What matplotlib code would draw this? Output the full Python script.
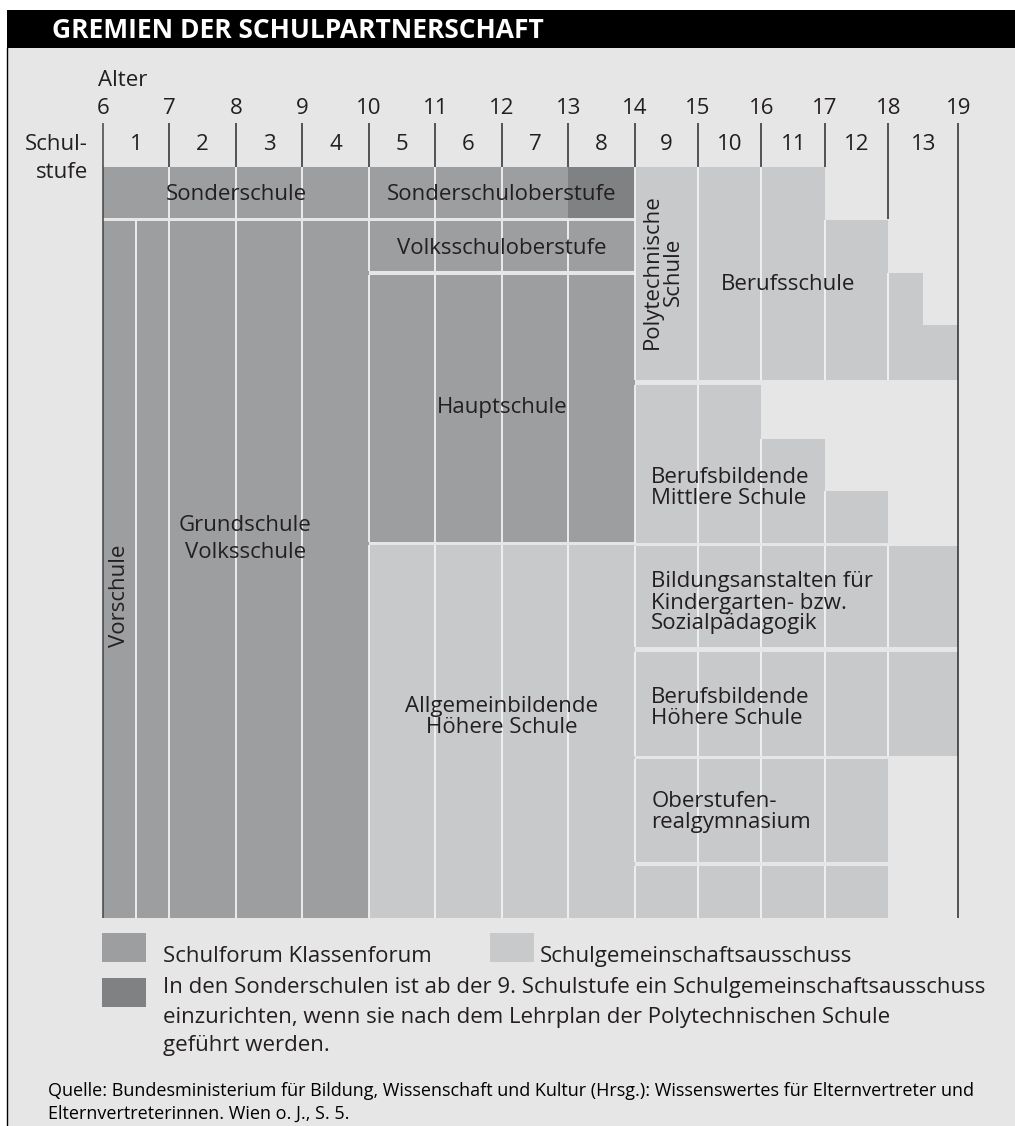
import numpy as np
import matplotlib
matplotlib.use("Agg")
import matplotlib.pyplot as plt
from matplotlib.patches import Rectangle

plt.rcParams['font.family'] = ['Open Sans', 'DejaVu Sans']

# ---------------- data ----------------
alter = [6, 7, 8, 9, 10, 11, 12, 13, 14, 15, 16, 17, 18, 19]
schulstufen = ['1', '2', '3', '4', '5', '6', '7', '8', '9', '10', '11', '12', '13']

schulen = ['Sonderschule', 'Sonderschuloberstufe', 'Vorschule',
           'Grundschule\nVolksschule', 'Volksschuloberstufe', 'Hauptschule',
           'Allgemeinbildende\nHöhere Schule', 'Polytechnische\nSchule',
           'Berufsschule', 'Berufsbildende\nMittlere Schule',
           'Bildungsanstalten für\nKindergarten- bzw.\nSozialpädagogik',
           'Berufsbildende\nHöhere Schule', 'Oberstufen-\nrealgymnasium', '']

jahr_von = [[6, 7, 8, 9], [10, 11, 12, 13], [6], [6.5, 7, 8, 9],
            [10, 11, 12, 13], [10, 11, 12, 13], [10, 11, 12, 13], [14],
            [15, 16, 17, 18, 18.5], [14, 15, 16, 17], [14, 15, 16, 17, 18],
            [14, 15, 16, 17, 18], [14, 15, 16, 17], [14, 15, 16, 17]]
jahr_bis = [[7, 8, 9, 10], [11, 12, 13, 14], [6.5], [7, 8, 9, 10],
            [11, 12, 13, 14], [11, 12, 13, 14], [11, 12, 13, 14], [15],
            [16, 17, 18, 18.5, 19], [15, 16, 17, 18], [15, 16, 17, 18, 19],
            [15, 16, 17, 18, 19], [15, 16, 17, 18], [15, 16, 17, 18]]
# F = Schulforum/Klassenforum, S = Schulgemeinschaftsausschuss, D = Sonderschule ab 9. Stufe
gremium = [['F'] * 4, ['F', 'F', 'F', 'D'], ['F'], ['F'] * 4,
           ['F'] * 4, ['F'] * 4, ['S'] * 4, ['S'],
           ['S'] * 5, ['S'] * 4, ['S'] * 5, ['S'] * 5, ['S'] * 4, ['S'] * 4]

legende = ['Schulforum Klassenforum', 'Schulgemeinschaftsausschuss',
           'In den Sonderschulen ist ab der 9. Schulstufe ein Schulgemeinschaftsausschuss\n'
           'einzurichten, wenn sie nach dem Lehrplan der Polytechnischen Schule\n'
           'geführt werden.']
quelle = ('Quelle: Bundesministerium für Bildung, Wissenschaft und Kultur (Hrsg.): '
          'Wissenswertes für Elternvertreter und\nElternvertreterinnen. Wien o. J., S. 5.')
titel = 'GREMIEN DER SCHULPARTNERSCHAFT'

# ---------------- layout (pixels from top) ----------------
W, H = 1015, 1126
# horizontal scale: age grid lines are not evenly spaced in the original drawing
scale_alter = [0, 6, 14, 18, 19, 30]
scale_px = [103 - 6 * 66.46, 103, 634.7, 888.3, 958.3, 958.3 + 11 * 70]


def fwd(a):
    return np.interp(a, scale_alter, scale_px)


def inv(p):
    return np.interp(p, scale_px, scale_alter)


zeile_oben = [[167] * 4, [167] * 4, [221], [221] * 4, [221] * 4, [275] * 4,
              [545] * 4, [167], [167, 167, 220, 273, 325], [385, 385, 439, 491],
              [546] * 5, [652] * 5, [759] * 4, [866] * 4]
zeile_unten = [218, 218, 918, 918, 271, 542, 918, 380, 380, 543, 647, 756, 862, 918]
label_x = [8, 12, 6.25, 8.14, 12, 12, 12, 14.45, 16.42, 14.26, 14.26, 14.26, 14.26, 12]
label_y = [195, 195, 596, 539, 248, 407, 717, 272, 285, 488, 603, 708, 812, 0]
label_rot = [0, 0, 90, 0, 0, 0, 0, 90, 0, 0, 0, 0, 0, 0]
label_ha = ['center'] * 9 + ['left'] * 5
label_ls = [1.2, 1.2, 1.2, 1.35, 1.2, 1.2, 1.05, 1.0, 1.2, 1.0, 1.0, 1.0, 1.0, 1.0]
keine_trennung = [18.5]

farben = {'F': '#9d9ea0', 'S': '#c8c9cb', 'D': '#808183'}
BG = '#e6e6e6'
SEP = '#f2f2f2'
INK = '#231f20'
FS = 16

fig = plt.figure(figsize=(W / 100, H / 100), dpi=100)
fig.patch.set_facecolor('white')

# pixel axes for decoration
axp = fig.add_axes([0, 0, 1, 1])
axp.set_xlim(0, W)
axp.set_ylim(H, 0)
axp.axis('off')
axp.add_patch(Rectangle((7, 48), W - 7, H - 48, facecolor=BG, edgecolor='none', zorder=0))
axp.add_patch(Rectangle((7, 10), W - 7, 38, facecolor='black', edgecolor='none', zorder=1))
axp.plot([7.5, 7.5], [48, H], color='black', lw=1.0, zorder=2)
axp.text(52, 30, titel, color='white', fontsize=19, fontweight='bold',
         ha='left', va='center', zorder=3)

# diagram axes, x in years of age
ax = fig.add_axes([0, 0, 1, 1])
ax.set_xscale('function', functions=(fwd, inv))
ax.set_xlim(inv(0), inv(W))
ax.set_ylim(H, 0)
ax.axis('off')
ax.patch.set_alpha(0)

for i, name in enumerate(schulen):
    prev = None
    for a0, a1, g, top in zip(jahr_von[i], jahr_bis[i], gremium[i], zeile_oben[i]):
        ax.add_patch(Rectangle((a0, top), a1 - a0, zeile_unten[i] - top,
                               facecolor=farben[g], edgecolor='none', zorder=1))
        if a0 > alter[0] and a0 not in keine_trennung and (prev is None or prev == g):
            ax.plot([a0, a0], [top, zeile_unten[i]], color=SEP, lw=1.3, zorder=2,
                    solid_capstyle='butt')
        prev = g
    if name:
        ax.text(label_x[i], label_y[i], name, ha=label_ha[i], va='center',
                rotation=label_rot[i], fontsize=FS, color=INK,
                linespacing=label_ls[i], multialignment=label_ha[i], zorder=3)

# age scale and tick lines
tick_bottom = {6: 918, 18: 219, 19: 918}
for a in alter:
    ax.text(a, 108, str(a), ha='center', va='center', fontsize=FS, color=INK)
    ax.plot([a, a], [123, tick_bottom.get(a, 167)], color='#2b2b2b' if a != 6 else '#444444',
            lw=1.1, zorder=4, solid_capstyle='butt')
for a0, a1, s in zip(alter[:-1], alter[1:], schulstufen):
    ax.text((a0 + a1) / 2, 144, s, ha='center', va='center', fontsize=FS, color=INK)

axp.text(98, 80, 'Alter', ha='left', va='center', fontsize=FS, color=INK)
axp.text(88, 144, 'Schul-', ha='right', va='center', fontsize=FS, color=INK)
axp.text(88, 172, 'stufe', ha='right', va='center', fontsize=FS, color=INK)

# legend
axp.add_patch(Rectangle((102, 933), 44, 29, facecolor=farben['F'], edgecolor='none'))
axp.text(163, 962, legende[0], ha='left', va='baseline', fontsize=FS, color=INK)
axp.add_patch(Rectangle((490, 933), 44, 29, facecolor=farben['S'], edgecolor='none'))
axp.text(540, 962, legende[1], ha='left', va='baseline', fontsize=FS, color=INK)
axp.add_patch(Rectangle((102, 978), 44, 29, facecolor=farben['D'], edgecolor='none'))
axp.text(163, 1017, legende[2], ha='left', va='center', fontsize=FS, color=INK,
         linespacing=1.5)

axp.text(48, 1102, quelle, ha='left', va='center', fontsize=13, color='black',
         linespacing=1.35)

fig.savefig('out.png', dpi=100, facecolor='white')
